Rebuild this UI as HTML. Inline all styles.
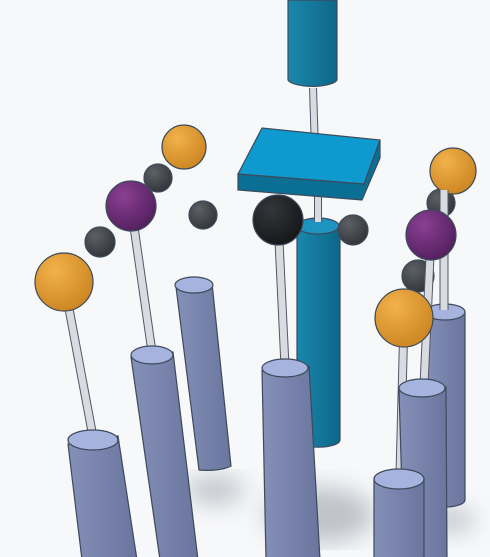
<!DOCTYPE html>
<html><head><meta charset="utf-8"><style>
html,body{margin:0;padding:0;background:#f7f8fa;width:490px;height:557px;overflow:hidden}
</style></head><body>
<svg width="490" height="557" viewBox="0 0 490 557" xmlns="http://www.w3.org/2000/svg">
<defs>
<radialGradient id="gOr" cx="0.35" cy="0.3" r="0.8"><stop offset="0" stop-color="#f2b24a"/><stop offset="1" stop-color="#c9821f"/></radialGradient>
<radialGradient id="gPu" cx="0.35" cy="0.3" r="0.8"><stop offset="0" stop-color="#8a3f92"/><stop offset="1" stop-color="#4f1d5a"/></radialGradient>
<radialGradient id="gDk" cx="0.35" cy="0.3" r="0.8"><stop offset="0" stop-color="#5d6166"/><stop offset="1" stop-color="#2e3235"/></radialGradient>
<radialGradient id="gBk" cx="0.35" cy="0.3" r="0.8"><stop offset="0" stop-color="#33363a"/><stop offset="1" stop-color="#121416"/></radialGradient>
<linearGradient id="gCy" x1="0" x2="1"><stop offset="0" stop-color="#8590b8"/><stop offset="1" stop-color="#6a759e"/></linearGradient>
<linearGradient id="gBl" x1="0" x2="1"><stop offset="0" stop-color="#1a87ad"/><stop offset="1" stop-color="#0d6788"/></linearGradient>
<filter id="blur"><feGaussianBlur stdDeviation="12"/></filter>
</defs>
<g filter="url(#blur)" fill="#9aa0a8" opacity="0.6">
<ellipse cx="320" cy="515" rx="55" ry="28"/>
<ellipse cx="215" cy="490" rx="30" ry="14"/>
<ellipse cx="450" cy="520" rx="25" ry="12"/>
</g>
<g stroke="#3c4a5a" stroke-width="1.2">
<!-- back cylinders -->
<g><path d="M176 287 L199 470 A27 8 0 0 0 231 466 L212 283 Z" fill="url(#gCy)"/><ellipse cx="194" cy="285" rx="19" ry="8" fill="#a5b3de"/></g>
<g><path d="M425 312 L425 500 A20 7 0 0 0 465 500 L465 312 Z" fill="url(#gCy)"/><ellipse cx="445" cy="312" rx="20" ry="8" fill="#a5b3de"/></g>
<!-- blue column -->
<g><path d="M297 226 L297 440 A21 7 0 0 0 340 440 L340 226 Z" fill="url(#gBl)"/><ellipse cx="318" cy="226" rx="21" ry="8" fill="#1d94c0"/></g>
<line x1="318" y1="190" x2="318" y2="222" stroke="#556" stroke-width="8"/>
<line x1="318" y1="190" x2="318" y2="222" stroke="#d8dce0" stroke-width="6"/>
<g><path d="M288 0 L288 80 A25 8 0 0 0 337 80 L337 0 Z" fill="url(#gBl)"/></g>
<line x1="313" y1="88" x2="315" y2="150" stroke="#556" stroke-width="8"/>
<line x1="313" y1="88" x2="315" y2="150" stroke="#d8dce0" stroke-width="6"/>
<g>
<path d="M238 174 L364 184 L380 140 L380 158 L362 200 L238 190 Z" fill="#0b6f94"/>
<path d="M238 174 L262 128 L380 140 L364 184 Z" fill="#0e9ace"/>
</g>
<!-- spheres back -->
<circle cx="158" cy="178" r="14" fill="url(#gDk)"/>
<circle cx="184" cy="147" r="22" fill="url(#gOr)"/>
<circle cx="203" cy="215" r="14" fill="url(#gDk)"/>
<circle cx="100" cy="242" r="15" fill="url(#gDk)"/>
<circle cx="353" cy="230" r="15" fill="url(#gDk)"/>
<circle cx="441" cy="203" r="14" fill="url(#gDk)"/>
<circle cx="453" cy="171" r="23" fill="url(#gOr)"/>
<circle cx="418" cy="276" r="16" fill="url(#gDk)"/>
<!-- rods -->
<g>
<line x1="444" y1="190" x2="444" y2="310" stroke="#556" stroke-width="9"/><line x1="444" y1="190" x2="444" y2="310" stroke="#d8dce0" stroke-width="7"/>
<line x1="131" y1="206" x2="152" y2="352" stroke="#556" stroke-width="9"/><line x1="131" y1="206" x2="152" y2="352" stroke="#d8dce0" stroke-width="7"/>
<line x1="278" y1="220" x2="285" y2="366" stroke="#556" stroke-width="9"/><line x1="278" y1="220" x2="285" y2="366" stroke="#d8dce0" stroke-width="7"/>
<line x1="431" y1="235" x2="424" y2="385" stroke="#556" stroke-width="9"/><line x1="431" y1="235" x2="424" y2="385" stroke="#d8dce0" stroke-width="7"/>
<line x1="64" y1="282" x2="93" y2="437" stroke="#556" stroke-width="9"/><line x1="64" y1="282" x2="93" y2="437" stroke="#d8dce0" stroke-width="7"/>
<line x1="404" y1="318" x2="400" y2="475" stroke="#556" stroke-width="9"/><line x1="404" y1="318" x2="400" y2="475" stroke="#d8dce0" stroke-width="7"/>
</g>
<circle cx="131" cy="206" r="25" fill="url(#gPu)"/>
<circle cx="278" cy="220" r="25" fill="url(#gBk)"/>
<circle cx="431" cy="235" r="25" fill="url(#gPu)"/>
<circle cx="64" cy="282" r="29" fill="url(#gOr)"/>
<circle cx="404" cy="318" r="29" fill="url(#gOr)"/>
<!-- front cylinders -->
<g><path d="M131 357 L160 560 L198 560 L173 352 Z" fill="url(#gCy)"/><ellipse cx="152" cy="355" rx="21" ry="9" fill="#a5b3de"/></g>
<g><path d="M262 370 L266 560 L320 560 L309 366 Z" fill="url(#gCy)"/><ellipse cx="285" cy="368" rx="23" ry="9" fill="#a5b3de"/></g>
<g><path d="M399 390 L404 560 L447 560 L446 387 Z" fill="url(#gCy)"/><ellipse cx="422" cy="388" rx="23" ry="9" fill="#a5b3de"/></g>
<g><path d="M68 444 L82 560 L137 560 L118 436 Z" fill="url(#gCy)"/><ellipse cx="93" cy="440" rx="25" ry="10" fill="#a5b3de"/></g>
<g><path d="M374 480 L374 560 L424 560 L424 478 Z" fill="url(#gCy)"/><ellipse cx="399" cy="479" rx="25" ry="10" fill="#a5b3de"/></g>
</g>
</svg>
</body></html>
